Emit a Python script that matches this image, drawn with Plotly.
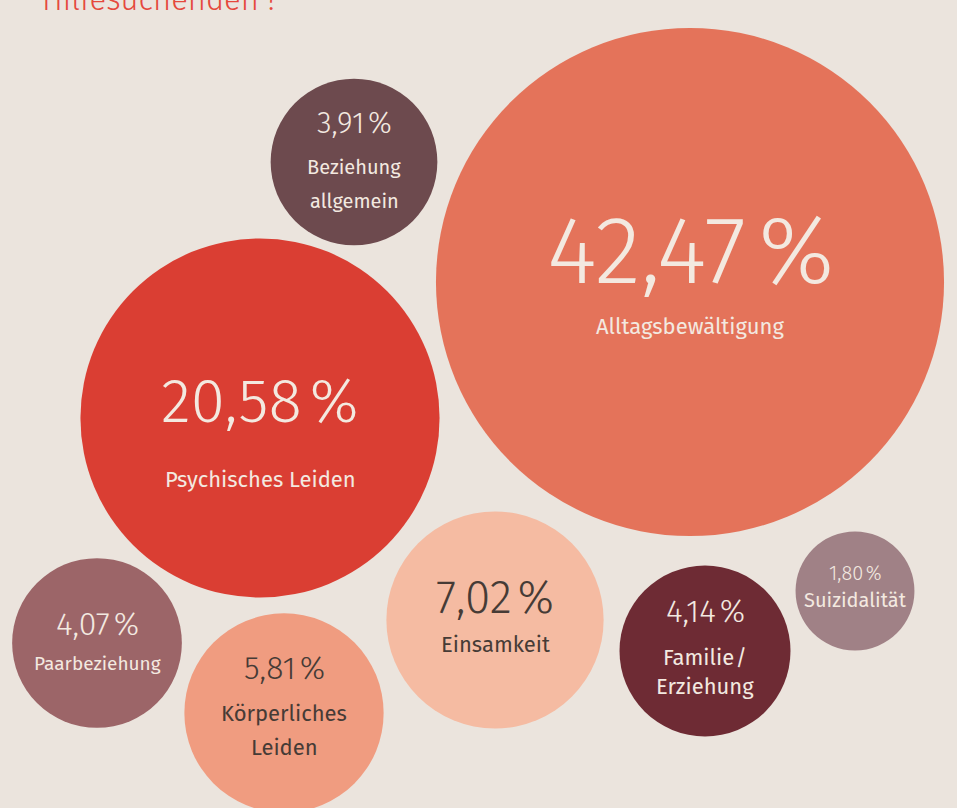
import plotly.graph_objects as go
import numpy as np

# data
categories = ["Alltagsbewältigung", "Psychisches Leiden", "Beziehung allgemein", "Einsamkeit",
              "Körperliches Leiden", "Familie/ Erziehung", "Paarbeziehung", "Suizidalität"]
values = [42.47, 20.58, 3.91, 7.02, 5.81, 4.14, 4.07, 1.80]
label_lines = [["Alltagsbewältigung"], ["Psychisches Leiden"], ["Beziehung", "allgemein"], ["Einsamkeit"],
               ["Körperliches", "Leiden"], ["Familie\u200a/", "Erziehung"], ["Paarbeziehung"], ["Suizidalität"]]

# layout (pixel space)
cx = [690, 260, 354, 495, 284, 705, 97, 855]
cy = [282, 418, 162, 620, 713, 651, 643, 591]
colors = ["#e4735a", "#da3e33", "#6d4a4e", "#f5bba2", "#f09c80", "#6e2b34", "#9c6568", "#a08186"]
pct_y = [250, 401, 123, 597, 668, 611, 624, 573]
pct_size = [96, 62, 30, 46, 32, 32, 32, 20]
lab_y = [[326], [479], [167, 201], [644], [713, 747], [657, 686], [663], [600]]
lab_size = [22, 22, 20, 22, 22, 22, 19, 20]
light, dark = "#f3e9e0", "#463b36"
txt_colors = [light, light, light, dark, dark, light, light, light]

W, H = 957, 808
FONT = "Fira Sans, Lato, Open Sans, sans-serif"

# radius grows with sqrt of the share
radius = 9 + 37.6 * np.sqrt(np.array(values))

fig = go.Figure()
fig.add_trace(go.Scatter(
    x=cx, y=cy, mode="markers",
    marker=dict(size=2 * radius, sizemode="diameter", color=colors, opacity=1, line=dict(width=0)),
    hovertext=categories, hoverinfo="text", showlegend=False))

for i, v in enumerate(values):
    pct = f"{v:.2f}".replace(".", ",") + "\u200a\u200a%"
    fig.add_annotation(x=cx[i], y=pct_y[i], text=pct, showarrow=False, xanchor="center", yanchor="middle",
                       font=dict(family=FONT, size=pct_size[i], color=txt_colors[i], weight=300))
    for line, ly in zip(label_lines[i], lab_y[i]):
        fig.add_annotation(x=cx[i], y=ly, text=line, showarrow=False, xanchor="center", yanchor="middle",
                           font=dict(family=FONT, size=lab_size[i], color=txt_colors[i]))

# last line of the title, cut by the top edge as in the source
fig.add_annotation(xref="paper", yref="paper", x=40 / W, y=1 + 1 / H, text="Hilfesuchenden\u2009?",
                   showarrow=False, xanchor="left", yanchor="middle",
                   font=dict(family=FONT, size=31, color="#e5483c", weight=300))

fig.update_layout(
    width=W, height=H,
    margin=dict(l=0, r=0, t=0, b=0),
    paper_bgcolor="#ebe4dd", plot_bgcolor="#ebe4dd",
    xaxis=dict(range=[0, W], visible=False, fixedrange=True),
    yaxis=dict(range=[H, 0], visible=False, fixedrange=True),
)

fig.write_html("out.html", config={"displayModeBar": False},
               post_script="document.body.style.margin='0';document.body.style.background='#ebe4dd';")
